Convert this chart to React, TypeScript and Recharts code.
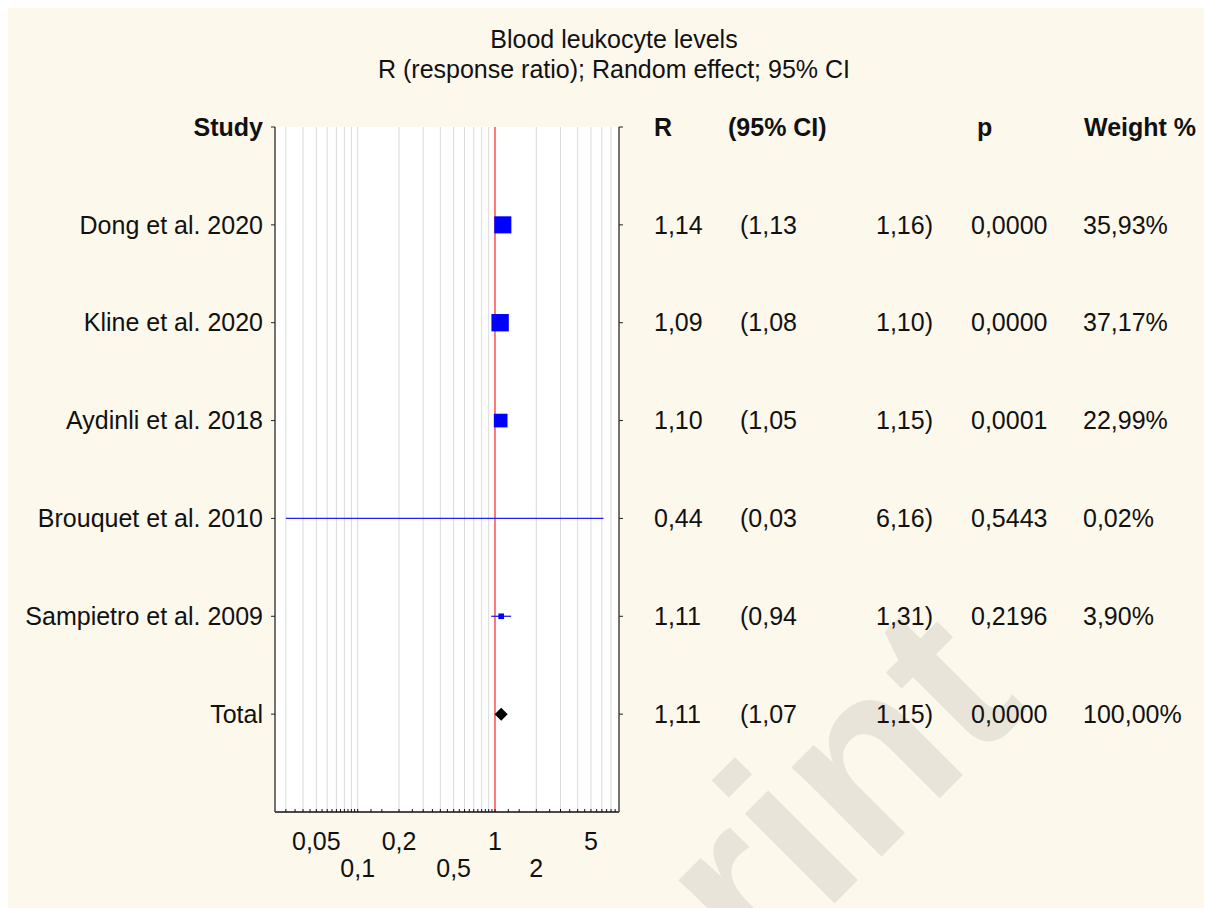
import { ComposedChart, Scatter, XAxis, YAxis, ErrorBar, ReferenceLine, CartesianGrid } from "recharts";

// study level results
const studies = ["Dong et al. 2020", "Kline et al. 2020", "Aydinli et al. 2018", "Brouquet et al. 2010", "Sampietro et al. 2009"];
const ratios = [1.14, 1.09, 1.1, 0.44, 1.11];
const ciLower = [1.13, 1.08, 1.05, 0.03, 0.94];
const ciUpper = [1.16, 1.1, 1.15, 6.16, 1.31];
const pValues = [0.0, 0.0, 0.0001, 0.5443, 0.2196];
const weights = [35.93, 37.17, 22.99, 0.02, 3.9];

// pooled estimate
const totalLabel = "Total";
const totalRatio = 1.11;
const totalLower = 1.07;
const totalUpper = 1.15;
const totalP = 0.0;
const totalWeight = 100;

const headers = ["Study", "R", "(95% CI)", "p", "Weight %"];
const majorTicks = [0.05, 0.1, 0.2, 0.5, 1, 2, 5];
const majorLabels = ["0,05", "0,1", "0,2", "0,5", "1", "2", "5"];
const gridValues = [
  0.03, 0.04, 0.05, 0.06, 0.07, 0.08, 0.09,
  0.1, 0.2, 0.3, 0.4, 0.5, 0.6, 0.7, 0.8, 0.9,
  2, 3, 4, 5, 6, 7,
];
const minorTicks = [
  0.03, 0.035, 0.04, 0.045, 0.05, 0.055, 0.06, 0.065, 0.07, 0.075, 0.08, 0.085, 0.09, 0.095,
  0.1, 0.125, 0.15, 0.2, 0.25, 0.3, 0.35, 0.4, 0.45, 0.5, 0.55, 0.6, 0.65, 0.7, 0.75, 0.8, 0.85, 0.9, 0.95,
  1, 1.25, 1.5, 2, 2.5, 3, 3.5, 4, 4.5, 5, 5.5, 6, 6.5, 7, 7.5,
];

const W = 1204;
const H = 900;
const FONT = '"Liberation Sans", Arial, Helvetica, sans-serif';
const FS = 25;
const BG = "#fdf8ec";

const comma = (v: number, d: number) => v.toFixed(d).replace(".", ",");

const rows = studies.map((name, i) => ({
  row: i + 1,
  name,
  r: ratios[i],
  lower: ciLower[i],
  upper: ciUpper[i],
  p: pValues[i],
  weight: weights[i],
  err: [ratios[i] - ciLower[i], ciUpper[i] - ratios[i]],
}));

const totalRow = {
  row: 6,
  name: totalLabel,
  r: totalRatio,
  lower: totalLower,
  upper: totalUpper,
  p: totalP,
  weight: totalWeight,
  err: [totalRatio - totalLower, totalUpper - totalRatio],
};

const tableRows = [...rows, totalRow];

// column anchors in chart coordinates
const COL = { r: 646, lo: 732, hi: 868, p: 963, w: 1075 };
const HEAD = { r: 646, ci: 720, p: 969, w: 1076 };

const StudyTick = ({ y, payload }: any) => {
  const v = payload.value;
  const text = v === 0 ? headers[0] : tableRows[v - 1]?.name;
  return (
    <text x={255} y={y} dy="0.35em" textAnchor="end" fontFamily={FONT} fontSize={FS}
      fontWeight={v === 0 ? 700 : 400} fill="#111">
      {text}
    </text>
  );
};

const TableTick = ({ y, payload }: any) => {
  const v = payload.value;
  const common = { y, dy: "0.35em", fontFamily: FONT, fontSize: FS, fill: "#111" };
  if (v === 0) {
    return (
      <g fontWeight={700}>
        <text x={HEAD.r} {...common}>{headers[1]}</text>
        <text x={HEAD.ci} {...common}>{headers[2]}</text>
        <text x={HEAD.p} {...common}>{headers[3]}</text>
        <text x={HEAD.w} {...common}>{headers[4]}</text>
      </g>
    );
  }
  const row = tableRows[v - 1];
  if (!row) return <g />;
  return (
    <g>
      <text x={COL.r} {...common}>{comma(row.r, 2)}</text>
      <text x={COL.lo} {...common}>({comma(row.lower, 2)}</text>
      <text x={COL.hi} {...common}>{comma(row.upper, 2)})</text>
      <text x={COL.p} {...common}>{comma(row.p, 4)}</text>
      <text x={COL.w} {...common}>{comma(row.weight, 2)}%</text>
    </g>
  );
};

const XTick = ({ x, payload }: any) => {
  const i = majorTicks.indexOf(payload.value);
  if (i < 0) return <g />;
  const lower = i % 2 === 1;
  return (
    <text x={x} y={lower ? 860 : 833} dy="0.35em" textAnchor="middle" fontFamily={FONT} fontSize={FS} fill="#111">
      {majorLabels[i]}
    </text>
  );
};

const StudySquare = ({ cx, cy, payload }: any) => {
  const s = 2.85 * Math.sqrt(payload.weight);
  return <rect x={cx - s / 2} y={cy - s / 2} width={s} height={s} fill="#0000ff" />;
};

const TotalDiamond = ({ cx, cy }: any) => {
  const h = 6.5;
  return <polygon points={`${cx},${cy - h} ${cx + h},${cy} ${cx},${cy + h} ${cx - h},${cy}`} fill="#000" />;
};

export default function App() {
  return (
    <div style={{ position: "relative", width: W, height: H, background: BG, overflow: "hidden", fontFamily: FONT }}>
      <svg width={W} height={H} style={{ position: "absolute", left: 0, top: 0 }}>
        <text x={1022} y={700} transform="rotate(-45 1022 700)" textAnchor="end" fontFamily={FONT}
          fontWeight={700} fontSize={240} fill="#e8e4da">
          Preprint
        </text>
      </svg>

      <div style={{ position: "absolute", left: 0, width: W, top: 16, textAlign: "center", fontSize: FS, color: "#111", lineHeight: "30px" }}>
        <div style={{ marginLeft: 8 }}>Blood leukocyte levels</div>
        <div style={{ marginLeft: 8 }}>R (response ratio); Random effect; 95% CI</div>
      </div>

      <div style={{ position: "absolute", left: 0, top: 0 }}>
        <ComposedChart width={W} height={H} margin={{ top: 119, right: 0, bottom: 16, left: 0 }}>
          <CartesianGrid xAxisId="x" yAxisId="left" horizontal={false} vertical={false} fill="#ffffff" stroke="none" />
          <XAxis
            xAxisId="x"
            dataKey="r"
            type="number"
            scale="log"
            domain={[0.025, 8]}
            allowDataOverflow
            ticks={minorTicks}
            interval={0}
            height={80}
            tickSize={-3}
            tickMargin={0}
            tickLine={{ stroke: "#111" }}
            axisLine={{ stroke: "#111", strokeWidth: 1.5 }}
            tick={<XTick />}
          />
          <XAxis
            xAxisId="top"
            orientation="top"
            type="number"
            scale="log"
            domain={[0.025, 8]}
            allowDataOverflow
            ticks={minorTicks}
            interval={0}
            height={0}
            tickSize={-3}
            tickLine={{ stroke: "#111" }}
            axisLine={{ stroke: "#111", strokeWidth: 1.5 }}
            tick={false}
          />
          <YAxis
            yAxisId="left"
            dataKey="row"
            type="number"
            domain={[0, 7]}
            reversed
            allowDataOverflow
            ticks={[0, 1, 2, 3, 4, 5, 6]}
            interval={0}
            width={267}
            tickSize={4}
            tickLine={{ stroke: "#222" }}
            axisLine={{ stroke: "#444", strokeWidth: 1.5 }}
            tick={<StudyTick />}
          />
          <YAxis
            yAxisId="right"
            orientation="right"
            type="number"
            domain={[0, 7]}
            reversed
            allowDataOverflow
            ticks={[0, 1, 2, 3, 4, 5, 6]}
            interval={0}
            width={593}
            tickSize={4}
            tickLine={{ stroke: "#222" }}
            axisLine={{ stroke: "#444", strokeWidth: 1.5 }}
            tick={<TableTick />}
          />
          {gridValues.map((v) => (
            <ReferenceLine key={v} x={v} xAxisId="x" yAxisId="left" stroke="#dadada" strokeWidth={1} />
          ))}
          <ReferenceLine x={1} xAxisId="x" yAxisId="left" stroke="#ff4b4b" strokeWidth={1.5} />
          <Scatter data={rows} dataKey="row" xAxisId="x" yAxisId="left" shape={<StudySquare />} isAnimationActive={false}>
            <ErrorBar dataKey="err" direction="x" width={0} stroke="#2020ff" strokeWidth={1.3} />
          </Scatter>
          <Scatter data={[totalRow]} dataKey="row" xAxisId="x" yAxisId="left" shape={<TotalDiamond />} isAnimationActive={false} />
        </ComposedChart>
      </div>
    </div>
  );
}
